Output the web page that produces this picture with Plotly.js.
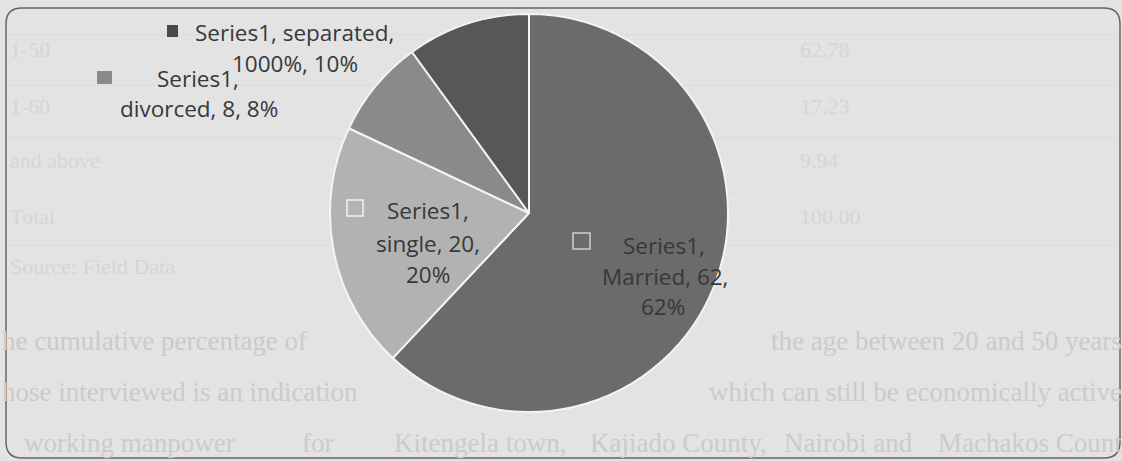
<!DOCTYPE html>
<html><head><meta charset="utf-8">
<script src="https://cdn.plot.ly/plotly-3.0.1.min.js"></script>
<style>html,body{margin:0;padding:0;background:#e3e3e3}</style>
</head><body><div id="chart" style="width:1122px;height:461px"></div>
<script>
// ---- data ----
const seriesName = 'Series1';
const categories = ['Married', 'single', 'divorced', 'separated'];
const values = [62, 20, 8, 10];
const valueLabels = ['62', '20', '8', '1000%'];
const percentLabels = ['62%', '20%', '8%', '10%'];
const sliceColors = ['#6b6b6b', '#b2b2b2', '#8a8a8a', '#575757'];
const markerColors = ['#6b6b6b', '#b2b2b2', '#8a8a8a', '#4a4a4a'];

// faint bleed-through text of the scanned page behind the chart
const ghostTable = ['62.78', '17.23', '9.94', '100.00'];
const ghostRows = ['1-50', '1-60', 'and above', 'Total', 'Source: Field Data'];
const ghostPara = [
  'he cumulative percentage of', 'the age between 20 and 50 years',
  'hose interviewed is an indication', 'which can still be economically active',
  'working manpower', 'for', 'Kitengela town,', 'Kajiado County,', 'Nairobi and', 'Machakos Count'
];

const W = 1122, H = 461;
const px = x => x / W, py = y => 1 - y / H;

// label line breaks as in the reference (Excel data-label wrapping)
function labelLines(i) {
  const c = categories[i], v = valueLabels[i], p = percentLabels[i];
  if (i === 0 || i === 1) return [seriesName + ',', c + ', ' + v + ',', p];
  if (i === 2) return [seriesName + ',', c + ', ' + v + ', ' + p];
  return [seriesName + ', ' + c + ',', v + ', ' + p];
}
// label placement (line centres x, baselines y) and key-square boxes
const labelPos = [
  {x: [664, 665, 663], y: [252, 283, 313], box: [573, 233, 590, 249], edge: '#cfcfcf'},
  {x: [428, 428, 428], y: [217, 250, 281], box: [347, 200, 363, 216], edge: '#f2f2f2'},
  {x: [198, 199], y: [85, 115], box: [97, 71, 112, 84], edge: null},
  {x: [294, 295], y: [39, 70], box: [167, 25, 178, 37], edge: null}
];
const FS = 22.5;
const annotations = [];
const shapes = [];

// ghost text
const ghostFont = {family: 'Liberation Serif, serif', size: 22, color: '#d5d5d5'};
const paraFont = {family: 'Liberation Serif, serif', size: 27, color: '#cbcbcb'};
const ghostTY = [50, 106, 160, 216];
ghostTable.forEach((t, i) => annotations.push({xref:'paper', yref:'paper', x: px(798), y: py(ghostTY[i]), xanchor:'left', yanchor:'middle', text: t, showarrow:false, font: ghostFont}));
const ghostRY = [50, 106, 160, 216, 266];
ghostRows.forEach((t, i) => annotations.push({xref:'paper', yref:'paper', x: px(8), y: py(ghostRY[i]), xanchor:'left', yanchor:'middle', text: t, showarrow:false, font: ghostFont}));
const ghostPX = [[0,'left'], [1124,'right'], [0,'left'], [1124,'right'],
  [22,'left'], [300,'left'], [392,'left'], [588,'left'], [782,'left'], [1124,'right']];
const ghostPY = [341, 341, 392, 392, 443, 443, 443, 443, 443, 443];
ghostPara.forEach((t, i) => annotations.push({xref:'paper', yref:'paper', x: px(ghostPX[i][0]), y: py(ghostPY[i]), xanchor: ghostPX[i][1], yanchor:'middle', text: t, showarrow:false, font: paraFont}));
[35, 85, 138, 192, 245].forEach(y => shapes.push({type:'line', xref:'paper', yref:'paper', x0: px(8), x1: px(1118), y0: py(y), y1: py(y), line:{color:'#dbdbdb', width:1}, layer:'below'}));

// data labels
categories.forEach((c, i) => {
  const lines = labelLines(i), pos = labelPos[i];
  lines.forEach((t, k) => annotations.push({
    xref:'paper', yref:'paper', x: px(pos.x[k]), y: py(pos.y[k] - 0.3 * FS),
    xanchor:'center', yanchor:'middle', text: t, showarrow:false,
    font:{family:'Open Sans, Lato, sans-serif', size: FS, color:'#383838'}
  }));
  const b = pos.box;
  shapes.push({type:'rect', xref:'paper', yref:'paper', x0: px(b[0]), y0: py(b[1]), x1: px(b[2]), y1: py(b[3]),
    fillcolor: markerColors[i], line: pos.edge ? {color: pos.edge, width: 1.5} : {width: 0}});
});

// rounded chart-area border
const L = 6, T = 8, R = 1120, B = 458, rr = 16;
shapes.push({type:'path', xref:'paper', yref:'paper',
  path: `M ${px(L)},${py(T+rr)} Q ${px(L)},${py(T)} ${px(L+rr)},${py(T)} L ${px(R-rr)},${py(T)} Q ${px(R)},${py(T)} ${px(R)},${py(T+rr)} L ${px(R)},${py(B-rr)} Q ${px(R)},${py(B)} ${px(R-rr)},${py(B)} L ${px(L+rr)},${py(B)} Q ${px(L)},${py(B)} ${px(L)},${py(B-rr)} Z`,
  line:{color:'#666666', width:1.5}, fillcolor:'rgba(0,0,0,0)'});

const trace = {
  type:'pie', labels: categories, values: values, sort:false, direction:'clockwise', rotation:0,
  marker:{colors: sliceColors, line:{color:'#f4f4f4', width:2}},
  textinfo:'none', hoverinfo:'label+value+percent', showlegend:false,
  domain:{x:[px(330), px(728)], y:[py(412), py(14)]}
};

Plotly.newPlot('chart', [trace], {
  width: W, height: H, margin:{l:0, r:0, t:0, b:0},
  paper_bgcolor:'#e3e3e3', plot_bgcolor:'#e3e3e3',
  showlegend:false, annotations: annotations, shapes: shapes
}, {displayModeBar:false, staticPlot:true});
</script></body></html>
